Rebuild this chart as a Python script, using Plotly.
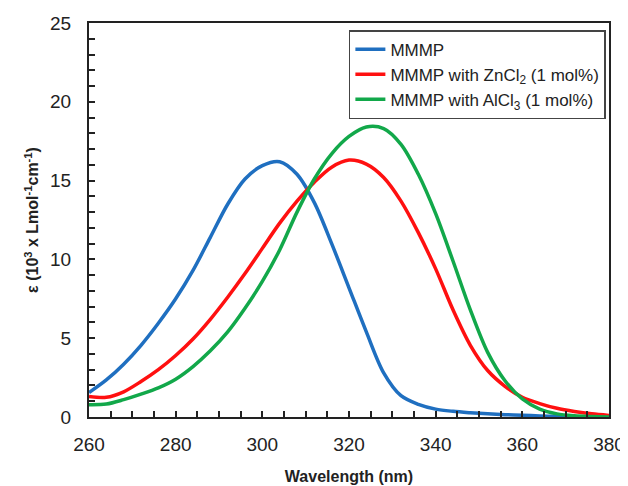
import plotly.graph_objects as go

wavelength = [260, 264, 268, 272, 276, 280, 284, 288, 292, 296, 300, 304, 308, 312, 316, 320,
              324, 328, 332, 336, 340, 344, 348, 352, 356, 360, 364, 368, 372, 376, 380]

mmmp = [1.55, 2.35, 3.35, 4.55, 5.95, 7.5, 9.3, 11.4, 13.5, 15.1, 15.95, 16.2, 15.4, 13.6, 11.0, 8.2,
        5.4, 2.8, 1.35, 0.8, 0.5, 0.36, 0.27, 0.2, 0.15, 0.11, 0.07, 0.04, 0.02, 0.01, 0.0]

mmmp_zn = [1.3, 1.25, 1.6, 2.25, 3.0, 3.9, 4.95, 6.2, 7.6, 9.1, 10.7, 12.3, 13.7, 14.9, 15.85, 16.3,
           16.05, 15.2, 13.7, 11.7, 9.4, 6.8, 4.55, 2.95, 1.95, 1.25, 0.85, 0.55, 0.35, 0.2, 0.1]

mmmp_al = [0.78, 0.82, 1.1, 1.45, 1.85, 2.4, 3.2, 4.2, 5.4, 6.9, 8.6, 10.6, 13.0, 15.1, 16.7, 17.8,
           18.4, 18.3, 17.3, 15.4, 12.9, 9.9, 6.8, 4.1, 2.3, 1.15, 0.5, 0.2, 0.08, 0.03, 0.0]

series = [
    ("MMMP", mmmp, "#1F6FC0"),
    ("MMMP with ZnCl<sub>2</sub> (1 mol%)", mmmp_zn, "#FF1010"),
    ("MMMP with AlCl<sub>3</sub> (1 mol%)", mmmp_al, "#12A84A"),
]

fig = go.Figure()
for name, ys, col in series:
    fig.add_trace(go.Scatter(x=wavelength, y=ys, mode="lines", name=name,
                             line=dict(color=col, width=3.5, shape="spline", smoothing=0.9)))

font = "Arial, Liberation Sans, sans-serif"
# page body has an 8px margin, so the figure is sized to fit the 628x486 window
fig.update_layout(
    width=620, height=478,
    margin=dict(l=81, r=19, t=15, b=69),
    paper_bgcolor="white", plot_bgcolor="white",
    font=dict(family=font, color="#222"),
    showlegend=True,
    legend=dict(x=0.994, y=0.982, xanchor="right", yanchor="top",
                bordercolor="#444", borderwidth=1.5, bgcolor="white",
                font=dict(size=17, color="#222"), tracegroupgap=0,
                itemwidth=30),
)
fig.update_xaxes(range=[260, 380], tickmode="linear", tick0=260, dtick=20,
                 ticks="inside", ticklen=6, tickwidth=1.5, tickcolor="#222",
                 minor=dict(ticks="inside", dtick=5, ticklen=6, tickwidth=1.5, tickcolor="#222"),
                 showline=True, linecolor="#222", linewidth=2, mirror=True,
                 showgrid=False, zeroline=False, ticklabelstandoff=9, automargin=False,
                 tickfont=dict(size=19, color="#222"),
                 title=dict(text="<b>Wavelength (nm)</b>", font=dict(size=16, color="#222"), standoff=17))
fig.update_yaxes(range=[0, 25], tickmode="linear", tick0=0, dtick=5,
                 ticks="inside", ticklen=6, tickwidth=1.5, tickcolor="#222",
                 minor=dict(ticks="inside", dtick=1, ticklen=6, tickwidth=1.5, tickcolor="#222"),
                 showline=True, linecolor="#222", linewidth=2, mirror=True,
                 showgrid=False, zeroline=False, ticklabelstandoff=12, automargin=False,
                 tickfont=dict(size=19, color="#222"),
                 title=dict(text="<b>ε (10<sup>3</sup> x Lmol<sup>-1</sup>cm<sup>-1</sup>)</b>",
                            font=dict(size=16, color="#222"), standoff=7))
fig.write_html("out.html")
